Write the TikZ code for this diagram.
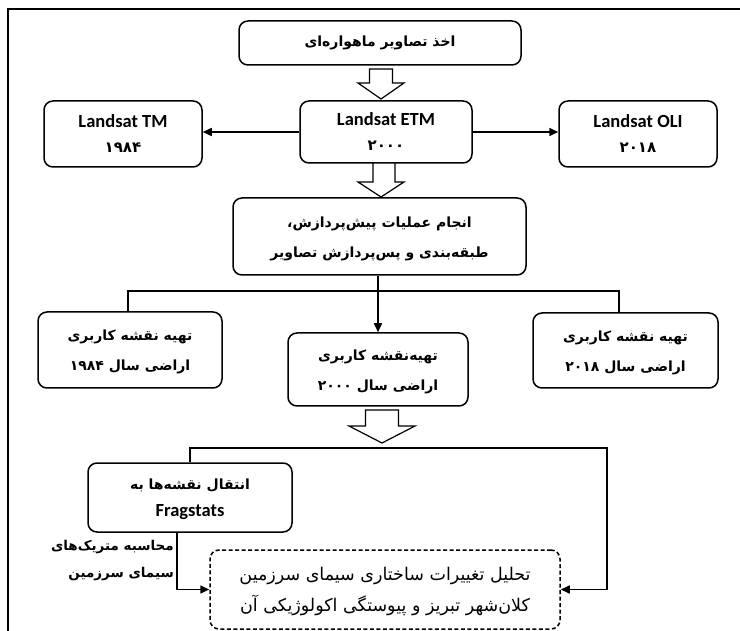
\documentclass[tikz,border=0pt]{standalone}
\usepackage{fontspec}
\setmainfont{Carlito}
\newfontfamily\fa[Script=Arabic]{DejaVu Sans}
\TeXXeTstate=1
\usetikzlibrary{arrows.meta}
\newcommand{\farl}[1]{\beginR #1\endR}
\newcommand{\twol}[3][4pt]{\raisebox{-#1}{\begin{tabular}{@{}c@{}}#2\\#3\end{tabular}}}
\tikzset{
  box/.style={draw, line width=1.5pt, rounded corners=9pt, inner sep=0pt, align=center, fill=white},
  dbox/.style={box, dash pattern=on 4pt off 2.5pt},
  conn/.style={line width=1.6pt},
  tip/.style={conn, -{Triangle[length=9pt,width=8pt]}},
  hollow/.style={draw, line width=1.2pt, fill=white},
  lat/.style={font=\fontsize{18.5}{25}\selectfont\bfseries},
  per/.style={font=\fa\bfseries\fontsize{14}{30}\selectfont},
  perl/.style={font=\fa\fontsize{17.5}{31}\selectfont},
}
\begin{document}
\begin{tikzpicture}[x=1pt,y=-1pt]
\useasboundingbox (0,0) rectangle (740,631);
% frame
\draw[line width=1.5pt] (8,631) -- (8,9) -- (740,9);

% nodes
\node[box, per, minimum width=282pt, minimum height=44pt] (top) at (380,43) {\raisebox{-3pt}{\farl{اخذ تصاویر ماهواره‌ای}}};
\node[box, lat, minimum width=158pt, minimum height=66pt] (tm) at (123,134) {Landsat TM\\{\fa\fontsize{15}{25}\selectfont ۱۹۸۴}};
\node[box, lat, minimum width=172pt, minimum height=62pt] (etm) at (386,132) {Landsat ETM\\{\fa\fontsize{15}{25}\selectfont ۲۰۰۰}};
\node[box, lat, minimum width=158pt, minimum height=66pt] (oli) at (638,134) {Landsat OLI\\{\fa\fontsize{15}{25}\selectfont ۲۰۱۸}};
\node[box, per, minimum width=293pt, minimum height=77pt] (proc) at (379.5,236.5) {\twol[7pt]{\farl{انجام عملیات پیش‌پردازش،}}{\farl{طبقه‌بندی و پس‌پردازش تصاویر}}};
\node[box, per, minimum width=184pt, minimum height=76pt] (m84) at (130,350) {\twol{\farl{تهیه نقشه کاربری}}{\farl{اراضی سال ۱۹۸۴}}};
\node[box, per, minimum width=180pt, minimum height=73pt] (m00) at (378,369.5) {\twol{\farl{تهیه‌نقشه کاربری}}{\farl{اراضی سال ۲۰۰۰}}};
\node[box, per, minimum width=185pt, minimum height=75pt] (m18) at (625.5,350.5) {\twol{\farl{تهیه نقشه کاربری}}{\farl{اراضی سال ۲۰۱۸}}};
\node[box, per, font=\fa\bfseries\fontsize{14}{27}\selectfont, minimum width=204pt, minimum height=69pt] (frag) at (190,497.5) {\twol[5pt]{\farl{انتقال نقشه‌ها به}}{{\fontspec{Carlito}\bfseries\fontsize{18.5}{27}\selectfont Fragstats}}};
\node[dbox, perl, minimum width=350pt, minimum height=79pt] (final) at (385,589.5) {\twol[1pt]{\farl{تحلیل تغییرات ساختاری سیمای سرزمین}}{\farl{کلان‌شهر تبریز و پیوستگی اکولوژیکی آن}}};
\node[align=right, anchor=east, inner sep=0pt, font=\fa\bfseries\fontsize{13.5}{27}\selectfont] (lbl) at (174,561) {\farl{محاسبه متریک‌های}\\\farl{سیمای سرزمین}};

% hollow arrows
\draw[hollow] (369.5,69) -- (392.5,69) -- (392.5,83) -- (404,83) -- (381,99) -- (358,83) -- (369.5,83) -- cycle;
\draw[hollow] (373,163) -- (395,163) -- (395,182) -- (404,182) -- (381,197) -- (358,182) -- (373,182) -- cycle;
\draw[hollow] (365.5,410) -- (398.5,410) -- (398.5,426) -- (415,426) -- (382,443) -- (349,426) -- (365.5,426) -- cycle;

% connectors
\draw[tip] (etm.west) -- (tm.east |- etm.west);
\draw[tip] (etm.east) -- (oli.west |- etm.east);

\coordinate (hl) at (128,291);
\coordinate (hr) at (619,291);
\draw[conn] (m84.north -| hl) -- (hl) -- (hr) -- (m18.north -| hr);
\draw[tip] (proc.south -| m00.north) -- (m00.north);

\coordinate (bl) at (190,448);
\coordinate (br) at (607,448);
\draw[conn] (frag.north -| bl) -- (bl) -- (br) -- (br |- final.east);
\draw[tip] (br |- final.east) -- (final.east);

\coordinate (fs) at (177,532);
\draw[conn] (fs) -- (fs |- final.west);
\draw[tip] (fs |- final.west) -- (final.west);
\end{tikzpicture}
\end{document}
